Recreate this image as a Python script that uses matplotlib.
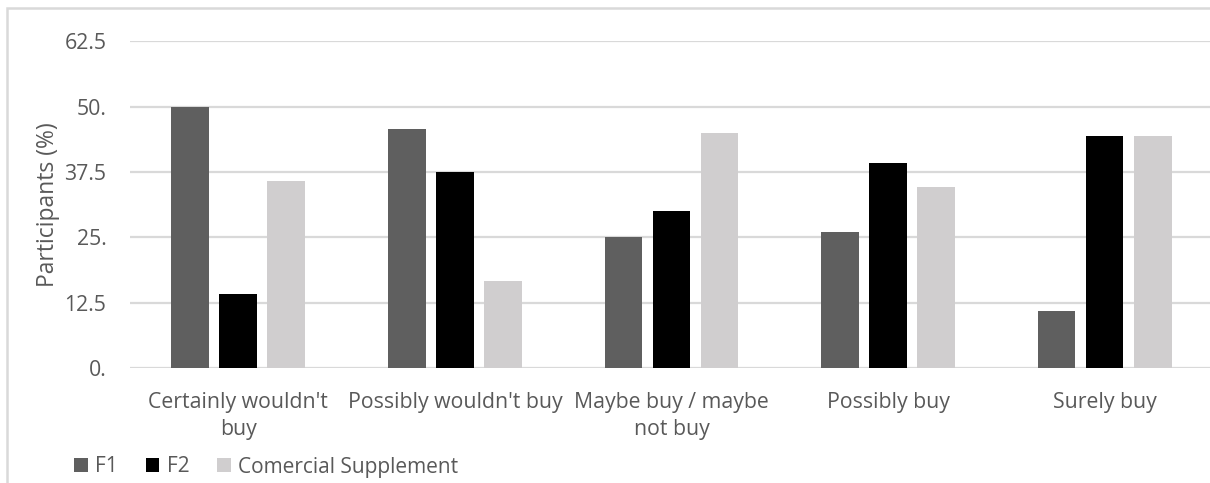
import matplotlib
matplotlib.use("Agg")
import matplotlib.pyplot as plt
import numpy as np
from matplotlib.patches import Rectangle

categories = ["Certainly wouldn't\nbuy", "Possibly wouldn't buy", "Maybe buy / maybe\nnot buy",
              "Possibly buy", "Surely buy"]
series_names = ["F1", "F2", "Comercial Supplement"]
f1 = [50.0, 45.8, 25.0, 26.0, 11.0]
f2 = [14.2, 37.5, 30.0, 39.2, 44.4]
cs = [35.7, 16.6, 45.0, 34.7, 44.4]
yticks = [0, 12.5, 25, 37.5, 50, 62.5]
ytick_labels = ["0.", "12.5", "25.", "37.5", "50.", "62.5"]

colors = ["#5f5f5f", "#000000", "#d0cecf"]
text_color = "#595959"
grid_color = "#d9d9d9"

plt.rcParams['font.family'] = ['Open Sans', 'DejaVu Sans']

fig = plt.figure(figsize=(12.1, 4.83), dpi=100)
ax = fig.add_axes([0.1074, 0.238, 0.895, 0.6765])

x = np.arange(len(categories))
step = 0.222
width = 0.174
for i, (vals, name, c) in enumerate(zip([f1, f2, cs], series_names, colors)):
    ax.bar(x + (i - 1) * step, vals, width, color=c, label=name, zorder=3)

ax.set_xlim(-0.5, len(categories) - 0.5)
ax.set_ylim(0, 62.5)
ax.set_yticks(yticks)
ax.set_yticklabels(ytick_labels)
ax.set_xticks(x)
ax.set_xticklabels(categories, linespacing=1.4)
ax.tick_params(axis='both', length=0, colors=text_color)
ax.tick_params(axis='y', pad=17, labelsize=15.3)
ax.tick_params(axis='x', pad=17, labelsize=15.3)
ax.yaxis.grid(True, color=grid_color, linewidth=1.6, zorder=0)
ax.set_axisbelow(True)
for s in ax.spines.values():
    s.set_visible(False)
ax.set_ylabel("Participants (%)", color=text_color, fontsize=16.5, labelpad=3)

leg = fig.legend(loc='center left', bbox_to_anchor=(74 / 1210, 1 - 467 / 483), ncol=3, frameon=False,
                 fontsize=15, handlelength=0.65, handleheight=0.65, handletextpad=0.35,
                 columnspacing=1.35, labelcolor=text_color, borderpad=0, borderaxespad=0)

# outer chart frame
fig.add_artist(Rectangle((7 / 1210, -0.1), 1.2, 1 - 8 / 483 + 0.1, transform=fig.transFigure,
                         fill=False, edgecolor=grid_color, linewidth=1.8))

fig.savefig("out.png", dpi=100)
